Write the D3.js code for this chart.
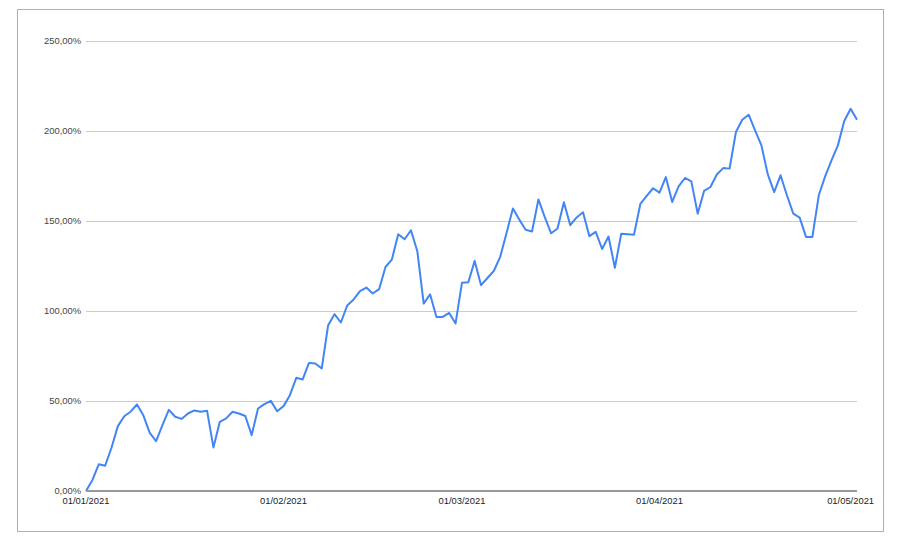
<!DOCTYPE html>
<html>
<head>
<meta charset="utf-8">
<script src="https://cdn.jsdelivr.net/npm/d3@7"></script>
<style>
  html, body { margin: 0; padding: 0; background: #fff; }
  svg { display: block; font-family: Arial, "Liberation Sans", sans-serif; }
</style>
</head>
<body>
<svg id="chart" width="900" height="545"></svg>
<script>
// ---- data ----
const startDate = "2021-01-01";
const values = [
  0, 6, 14.8, 14, 24, 36, 41.5, 44, 48, 42,
  32.3, 27.7, 36.6, 45, 41.2, 40, 43, 44.7, 44, 44.5,
  24.2, 38.4, 40.3, 44, 43, 41.6, 31, 45.8, 48.2, 50,
  44.3, 47.1, 53.2, 62.8, 61.9, 71.1, 70.8, 68, 92, 98.1,
  93.5, 103, 106.3, 110.9, 112.9, 109.6, 112, 124.3, 128.4, 142.5,
  139.7, 144.7, 133, 104, 109.2, 96.6, 96.6, 98.8, 93, 115.5,
  115.8, 127.7, 114.2, 118.2, 122.1, 129.9, 143.2, 156.8, 150.6, 145,
  144, 161.8, 152, 143, 145.7, 160.2, 147.5, 151.8, 154.7, 141.4,
  143.8, 134.3, 141.2, 123.9, 142.8, 142.5, 142.2, 159.3, 163.8, 168,
  165.6, 174.2, 160.4, 169, 173.7, 171.8, 153.9, 166.5, 168.7, 175.6,
  179.2, 178.9, 199.2, 206, 208.8, 200.1, 191.8, 175.7, 165.9, 175.2,
  164.1, 153.9, 151.7, 141, 141, 164.1, 174.6, 183.5, 191.8, 205.3,
  212.1, 206
];
const yTicks = [0, 50, 100, 150, 200, 250];
const xTickDates = ["2021-01-01", "2021-02-01", "2021-03-01", "2021-04-01", "2021-05-01"];

// ---- build ----
const parse = d3.utcParse("%Y-%m-%d");
const t0 = parse(startDate);
const data = values.map((v, i) => ({ date: d3.utcDay.offset(t0, i), value: v }));

const svg = d3.select("#chart");

// outer border
svg.append("rect")
  .attr("x", 17.5).attr("y", 9.5)
  .attr("width", 866).attr("height", 522)
  .attr("fill", "#fff")
  .attr("stroke", "#b0b0b0")
  .attr("stroke-width", 1);

const x = d3.scaleUtc()
  .domain([data[0].date, data[data.length - 1].date])
  .range([86, 857]);

const y = d3.scaleLinear()
  .domain([0, 250])
  .range([491, 40.5]);

const fmtPct = v => d3.format(".2f")(v).replace(".", ",") + "%";
const fmtDate = d3.utcFormat("%d/%m/%Y");

// gridlines
svg.append("g")
  .selectAll("line")
  .data(yTicks.filter(t => t !== 0))
  .join("line")
  .attr("x1", 86).attr("x2", 857)
  .attr("y1", d => Math.round(y(d)) + 0.5)
  .attr("y2", d => Math.round(y(d)) + 0.5)
  .attr("stroke", "#cccccc")
  .attr("stroke-width", 1);

// y labels
svg.append("g")
  .selectAll("text")
  .data(yTicks)
  .join("text")
  .attr("x", 81)
  .attr("y", d => y(d))
  .attr("dy", "0.35em")
  .attr("text-anchor", "end")
  .attr("font-size", 9.4)
  .attr("fill", "#444")
  .text(fmtPct);

// x labels
svg.append("g")
  .selectAll("text")
  .data(xTickDates.map(parse))
  .join("text")
  .attr("x", d => x(d))
  .attr("y", 504)
  .attr("text-anchor", "middle")
  .attr("font-size", 9.4)
  .attr("fill", "#222")
  .text(fmtDate);

// line
const line = d3.line()
  .x(d => x(d.date))
  .y(d => y(d.value));

svg.append("path")
  .datum(data)
  .attr("d", line)
  .attr("fill", "none")
  .attr("stroke", "#4285F4")
  .attr("stroke-width", 2)
  .attr("stroke-linejoin", "round");

// baseline
svg.append("line")
  .attr("x1", 86).attr("x2", 857)
  .attr("y1", y(0)).attr("y2", y(0))
  .attr("stroke", "#999999")
  .attr("stroke-width", 2);
</script>
</body>
</html>
